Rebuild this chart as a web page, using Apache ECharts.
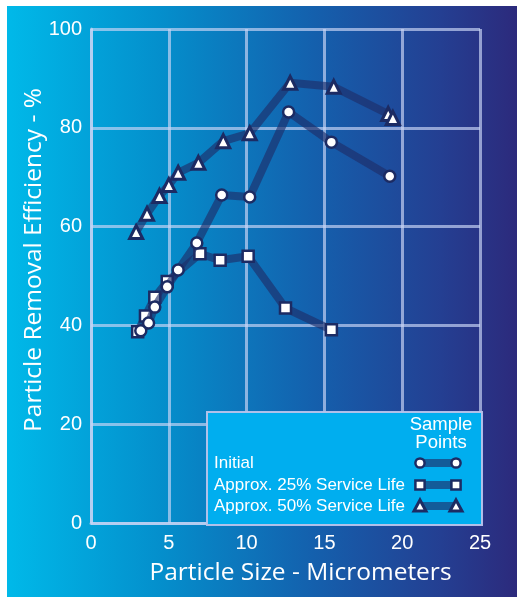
<!DOCTYPE html>
<html>
<head>
<meta charset="utf-8">
<script src="https://cdn.jsdelivr.net/npm/echarts@6/dist/echarts.min.js"></script>
<style>
html,body{margin:0;padding:0;background:#fff;}
#c{width:517px;height:597px;}
</style>
</head>
<body>
<div id="c"></div>
<script>
// Data
var initialX = [3.2, 3.7, 4.1, 4.9, 5.6, 6.8, 8.4, 10.2, 12.7, 15.45, 19.2];
var initialY = [38.9, 40.5, 43.7, 47.8, 51.2, 56.7, 66.4, 66.0, 83.2, 77.1, 70.2];

var life25X = [3.0, 3.5, 4.1, 4.9, 7.0, 8.3, 10.1, 12.5, 15.45];
var life25Y = [38.7, 41.9, 45.7, 48.9, 54.5, 53.2, 54.0, 43.5, 39.1];

var life50X = [2.9, 3.6, 4.4, 5.0, 5.6, 6.9, 8.5, 10.2, 12.8, 15.6, 19.1, 19.4];
var life50Y = [58.9, 62.6, 66.2, 68.4, 70.9, 72.9, 77.3, 78.9, 89.1, 88.3, 82.8, 82.0];

var xTicks = [0, 5, 10, 15, 20, 25];
var yTicks = [0, 20, 40, 60, 80, 100];

var seriesNames = ['Initial', 'Approx. 25% Service Life', 'Approx. 50% Service Life'];
var legendTitle = 'Sample\nPoints';
var xTitle = 'Particle Size - Micrometers';
var yTitle = 'Particle Removal Efficiency - %';

function pairs(xs, ys) { return xs.map(function (x, i) { return [x, ys[i]]; }); }

var navy = '#1c2b63';
var lineCol = 'rgba(30,45,105,0.64)';
var gridCol = 'rgba(200,212,245,0.68)';
var font = 'Liberation Sans';
var titleFont = 'Open Sans';

var chart = echarts.init(document.getElementById('c'), null, {renderer: 'canvas'});

function mkSeries(name, data, symbol, size, fill, bw, z) {
  return {
    name: name, type: 'line', data: data, symbol: symbol, symbolSize: size,
    showAllSymbol: true,
    lineStyle: {color: lineCol, width: 8, cap: 'round', join: 'round'},
    itemStyle: {color: fill, borderColor: navy, borderWidth: bw},
    emphasis: {disabled: true}, z: z
  };
}

var legendLeft = 207, legendTop = 412, legendW = 275, legendH = 113;
var rowY = [463, 485, 506];
var symA = 420, symB = 456;

var legendGraphics = [
  {type: 'rect', shape: {x: legendLeft, y: legendTop, width: legendW, height: legendH},
   style: {fill: '#00aeef', stroke: 'rgba(185,195,235,0.95)', lineWidth: 2}, z: 100},
  {type: 'text', x: 441, y: 434, style: {text: legendTitle, fill: '#fff', font: '18.5px "' + font + '"',
   align: 'center', verticalAlign: 'middle', lineHeight: 17.5}, z: 101}
];
var legendSyms = [
  {symbol: 'circle', fill: '#fff', bw: 2.5},
  {symbol: 'rect', fill: '#fff', bw: 2.5},
  {symbol: 'triangle', fill: '#fff', bw: 3}
];
seriesNames.forEach(function (n, i) {
  legendGraphics.push({type: 'text', x: 214, y: rowY[i], style: {text: n, fill: '#fff',
    font: '17px "' + font + '"', align: 'left', verticalAlign: 'middle'}, z: 101});
  legendGraphics.push({type: 'line', shape: {x1: symA, y1: rowY[i], x2: symB, y2: rowY[i]},
    style: {stroke: lineCol, lineWidth: 8}, z: 101});
  [symA, symB].forEach(function (sx) {
    var s = legendSyms[i];
    if (s.symbol === 'circle') {
      legendGraphics.push({type: 'circle', shape: {cx: sx, cy: rowY[i], r: 4.6},
        style: {fill: s.fill, stroke: navy, lineWidth: s.bw}, z: 102});
    } else if (s.symbol === 'rect') {
      legendGraphics.push({type: 'rect', shape: {x: sx - 4.6, y: rowY[i] - 4.6, width: 9.2, height: 9.2},
        style: {fill: s.fill, stroke: navy, lineWidth: s.bw}, z: 102});
    } else {
      legendGraphics.push({type: 'polygon', shape: {points: [[sx, rowY[i] - 6], [sx + 6, rowY[i] + 5], [sx - 6, rowY[i] + 5]]},
        style: {fill: s.fill, stroke: navy, lineWidth: s.bw, lineJoin: 'miter'}, z: 102});
    }
  });
});

var bg = {type: 'rect', shape: {x: 7, y: 6, width: 510, height: 591}, silent: true, z: -10,
  style: {fill: new echarts.graphic.LinearGradient(0, 0, 1, 0, [
    {offset: 0, color: '#00b9e9'},
    {offset: 0.3, color: '#048fcc'},
    {offset: 0.6, color: '#1460ad'},
    {offset: 0.85, color: '#243f92'},
    {offset: 1, color: '#2c2a7c'}
  ])}};

chart.setOption({
  animation: false,
  backgroundColor: '#ffffff',
  grid: {left: 91, top: 29, right: 37, bottom: 74, containLabel: false},
  xAxis: {
    type: 'value', min: xTicks[0], max: xTicks[xTicks.length - 1], interval: xTicks[1] - xTicks[0],
    name: xTitle, nameLocation: 'middle', nameGap: 38, nameMoveOverlap: false,
    nameTextStyle: {color: '#fff', fontSize: 24.5, fontFamily: titleFont, padding: [0, 0, 0, 30]},
    axisLine: {show: true, lineStyle: {color: gridCol, width: 3}},
    axisTick: {show: false},
    axisLabel: {color: '#fff', fontSize: 20, fontFamily: font, margin: 10},
    splitLine: {show: true, lineStyle: {color: gridCol, width: 3}}
  },
  yAxis: {
    type: 'value', min: yTicks[0], max: yTicks[yTicks.length - 1], interval: yTicks[1] - yTicks[0],
    name: yTitle, nameLocation: 'middle', nameGap: 44, nameRotate: 90, nameMoveOverlap: false,
    nameTextStyle: {color: '#fff', fontSize: 24.5, fontFamily: titleFont, padding: [0, 0, 0, 32]},
    axisLine: {show: true, lineStyle: {color: gridCol, width: 3}},
    axisTick: {show: false},
    axisLabel: {color: '#fff', fontSize: 20, fontFamily: font, margin: 9},
    splitLine: {show: true, lineStyle: {color: gridCol, width: 3}}
  },
  graphic: [bg].concat(legendGraphics),
  series: [
    mkSeries(seriesNames[1], pairs(life25X, life25Y), 'rect', 11, '#fff', 2.5, 3),
    mkSeries(seriesNames[0], pairs(initialX, initialY), 'circle', 11, '#fff', 2.5, 4),
    mkSeries(seriesNames[2], pairs(life50X, life50Y), 'triangle', 13, '#fff', 3, 5)
  ]
});
</script>
</body>
</html>
